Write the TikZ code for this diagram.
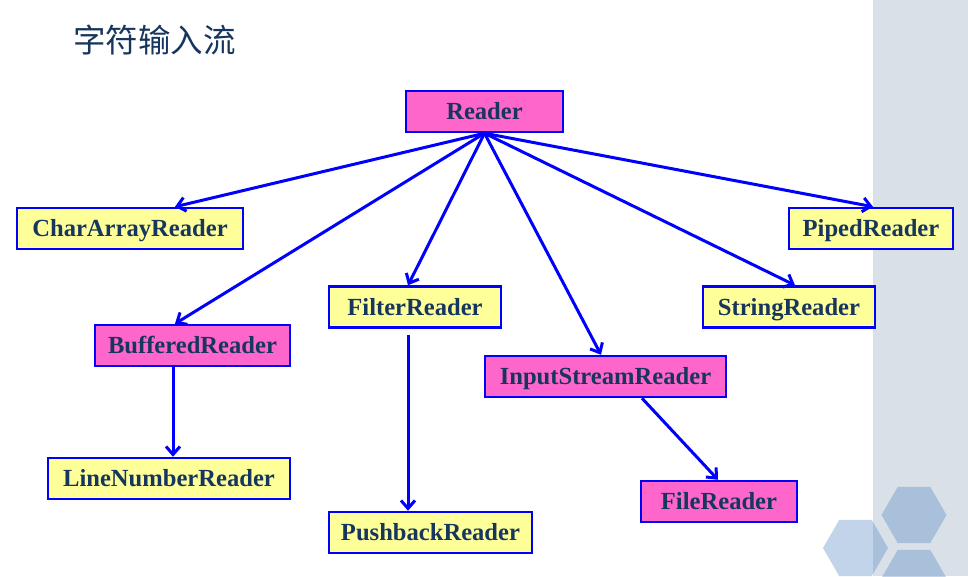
\documentclass[tikz,border=0pt]{standalone}
\usepackage{fontspec}
\setmainfont{Liberation Serif}
\newfontfamily\cjkfont{Noto Sans CJK SC}
\usetikzlibrary{arrows.meta}
\definecolor{pinkfill}{HTML}{FF66CC}
\definecolor{yellowfill}{HTML}{FFFF99}
\definecolor{boxblue}{HTML}{0000FF}
\definecolor{navytext}{HTML}{17365D}
\definecolor{bandgrey}{HTML}{D9E0E8}
\definecolor{hexblue}{RGB}{93,141,198}
\begin{document}
\begin{tikzpicture}[x=1pt,y=-1pt,
  cls/.style={draw=boxblue, line width=2.5pt, minimum height=41pt, inner sep=0pt,
    text height=17pt, text depth=0.7pt,
    text=navytext, font=\fontsize{24.6}{28}\selectfont\bfseries},
  pinkbox/.style={cls, fill=pinkfill},
  yellowbox/.style={cls, fill=yellowfill},
  conn/.style={draw=boxblue, line width=3pt, -{Straight Barb[length=8pt,width=14pt,line width=3pt]}},
  hex/.style={fill=hexblue, fill opacity=0.38}]
\useasboundingbox (0,0) rectangle (968,576);
% background band
\fill[bandgrey] (873,0) rectangle (968,576);
% hexagons
\fill[hex] (914,515) +(0:32.5) -- +(60:32.5) -- +(120:32.5) -- +(180:32.5) -- +(240:32.5) -- +(300:32.5) -- cycle;
\fill[hex] (914,578) +(0:32.5) -- +(60:32.5) -- +(120:32.5) -- +(180:32.5) -- +(240:32.5) -- +(300:32.5) -- cycle;
\fill[hex] (855.5,548) +(0:32.5) -- +(60:32.5) -- +(120:32.5) -- +(180:32.5) -- +(240:32.5) -- +(300:32.5) -- cycle;
% title
\node[text=navytext, font=\cjkfont\fontsize{32.5}{36}\selectfont, anchor=west, inner sep=0pt] (title) at (73,40) {字符输入流};
% nodes
\node[pinkbox, minimum width=157pt] (reader) at (484.5,111.5) {Reader};
\node[yellowbox, minimum width=226pt] (char) at (130,228.5) {CharArrayReader};
\node[yellowbox, minimum width=164pt] (piped) at (871,228.5) {PipedReader};
\node[yellowbox, minimum width=172pt] (filter) at (415,307) {FilterReader};
\node[yellowbox, minimum width=172pt] (string) at (789,307) {StringReader};
\node[pinkbox, minimum width=195pt] (buffered) at (192.5,345.5) {BufferedReader};
\node[pinkbox, minimum width=241pt] (isr) at (605.5,376.5) {InputStreamReader};
\node[yellowbox, minimum width=242pt] (line) at (169,478.5) {LineNumberReader};
\node[pinkbox, minimum width=156pt] (file) at (719,501.5) {FileReader};
\node[yellowbox, minimum width=203pt] (push) at (430.5,532.5) {PushbackReader};
% connectors
\draw[conn] (reader.south) -- ([xshift=45pt]char.north);
\draw[conn] (reader.south) -- ([xshift=-17.5pt]buffered.north);
\draw[conn] (reader.south) -- ([xshift=-7pt]filter.north);
\draw[conn] (reader.south) -- ([xshift=-4.5pt]isr.north);
\draw[conn] (reader.south) -- ([xshift=6pt]string.north);
\draw[conn] (reader.south) -- ([xshift=2pt]piped.north);
\draw[conn] ([xshift=-19.5pt]buffered.south) -- ([xshift=4pt]line.north);
\draw[conn] ([xshift=-7pt,yshift=-6pt]filter.south) -- ([xshift=-22.5pt]push.north);
\draw[conn] ([xshift=36.5pt]isr.south) -- ([xshift=-1pt]file.north);
\end{tikzpicture}
\end{document}
